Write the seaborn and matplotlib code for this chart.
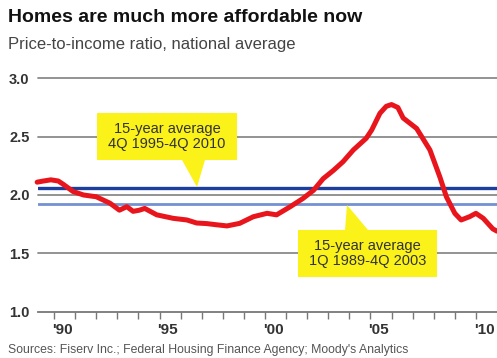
import numpy as np
import pandas as pd
import matplotlib
matplotlib.use("Agg")
import matplotlib.pyplot as plt
from matplotlib.patches import Polygon
import seaborn as sns

# price-to-income ratio readings (year, value)
years = [1989.2, 1989.5, 1989.85, 1990.2, 1990.45, 1990.9, 1991.4, 1992.0, 1992.65,
         1993.1, 1993.45, 1993.75, 1994.05, 1994.3, 1994.87, 1995.65, 1996.3, 1996.76,
         1997.24, 1997.7, 1998.2, 1998.8, 1999.45, 2000.1, 2000.55, 2001.2, 2001.8,
         2002.3, 2002.76, 2003.24, 2003.7, 2004.19, 2004.8, 2005.06, 2005.45, 2005.75,
         2006.0, 2006.3, 2006.55, 2007.19, 2007.82, 2008.3, 2008.6, 2009.0, 2009.3,
         2009.7, 2010.0, 2010.35, 2010.8, 2011.0]
ratio = [2.11, 2.12, 2.13, 2.12, 2.09, 2.03, 2.00, 1.985, 1.93,
         1.87, 1.90, 1.86, 1.87, 1.885, 1.83, 1.80, 1.786, 1.76,
         1.755, 1.745, 1.735, 1.757, 1.814, 1.843, 1.83, 1.90, 1.97,
         2.04, 2.14, 2.21, 2.285, 2.386, 2.486, 2.557, 2.70, 2.76,
         2.775, 2.75, 2.66, 2.57, 2.386, 2.15, 1.985, 1.843, 1.786,
         1.814, 1.843, 1.80, 1.71, 1.69]
avg_95_10 = 2.06
avg_89_03 = 1.92
yticks = [1.0, 1.5, 2.0, 2.5, 3.0]
label_years = [1990, 1995, 2000, 2005, 2010]
label_text = ["'90", "'95", "'00", "'05", "'10"]

sns.set_style("white")
plt.rcParams['font.family'] = ['Liberation Sans', 'DejaVu Sans']

fig = plt.figure(figsize=(4.97, 3.58), dpi=100)
ax = fig.add_axes([38/497, 1 - 311.7/358, 1 - 38/497, (311.7 - 78.3)/358])

for v in yticks[1:]:
    ax.axhline(v, color="#8a8a8a", lw=1.3, zorder=1, clip_on=False)
ax.axhline(avg_95_10, color="#1c3f9e", lw=2.4, zorder=2)
ax.axhline(avg_89_03, color="#7391d3", lw=2.0, zorder=2)

df = pd.DataFrame({"year": years, "ratio": ratio})
sns.lineplot(data=df, x="year", y="ratio", ax=ax, color="#e8161c", lw=3.6,
             zorder=4, clip_on=False)

ax.set_xlim(1989.24, 2011.0)
ax.set_ylim(1.0, 3.0)
ax.set_yticks(yticks)
ax.set_yticklabels(["%.1f" % v for v in yticks], fontsize=10.5, fontweight="bold",
                   color="#333333")
ax.set_xticks(range(1990, 2011))
ax.set_xticklabels([])
ax.set_xticks([y + 0.4 for y in label_years], minor=True)
ax.set_xticklabels(label_text, minor=True, fontsize=11, fontweight="bold",
                   color="#333333")
ax.tick_params(axis="x", which="major", bottom=True, direction="out", length=5,
               width=1, color="#777777")
ax.tick_params(axis="x", which="minor", bottom=True, length=0, pad=8)
ax.tick_params(axis="y", left=False, length=0, pad=6)
for s in ["top", "right", "left"]:
    ax.spines[s].set_visible(False)
ax.spines["bottom"].set_color("#777777")
ax.spines["bottom"].set_linewidth(1.3)
ax.set_xlabel("")
ax.set_ylabel("")

# callout boxes (axes-fraction coordinates built from pixels)
def px(x, y):
    return ((x - 38) / (497 - 38), (311.7 - y) / (311.7 - 78.3))

yellow = "#fbf21a"
box1 = Polygon([px(97, 113), px(237, 113), px(237, 160), px(205, 160),
                px(197, 187), px(182, 160), px(97, 160)],
               closed=True, transform=ax.transAxes, facecolor=yellow,
               edgecolor="none", zorder=5, clip_on=False)
ax.add_patch(box1)
ax.text(*px(167, 136.5), "15-year average\n4Q 1995-4Q 2010", transform=ax.transAxes,
        ha="center", va="center", fontsize=10.5, color="#333333", linespacing=1.15,
        zorder=6)

box2 = Polygon([px(298, 230), px(345, 230), px(347, 205), px(368, 230),
                px(437, 230), px(437, 277), px(298, 277)],
               closed=True, transform=ax.transAxes, facecolor=yellow,
               edgecolor="none", zorder=5, clip_on=False)
ax.add_patch(box2)
ax.text(*px(367.5, 253.5), "15-year average\n1Q 1989-4Q 2003", transform=ax.transAxes,
        ha="center", va="center", fontsize=10.5, color="#333333", linespacing=1.15,
        zorder=6)

fig.text(8/497, 1 - 17/358, "Homes are much more affordable now", fontsize=14,
         fontweight="bold", color="#111111", va="center", ha="left")
fig.text(8/497, 1 - 45/358, "Price-to-income ratio, national average", fontsize=12,
         color="#444444", va="center", ha="left")
fig.text(8/497, 1 - 350/358, "Sources: Fiserv Inc.; Federal Housing Finance Agency; Moody's Analytics",
         fontsize=8.8, color="#555555", va="center", ha="left")

fig.savefig("out.png", dpi=100)
